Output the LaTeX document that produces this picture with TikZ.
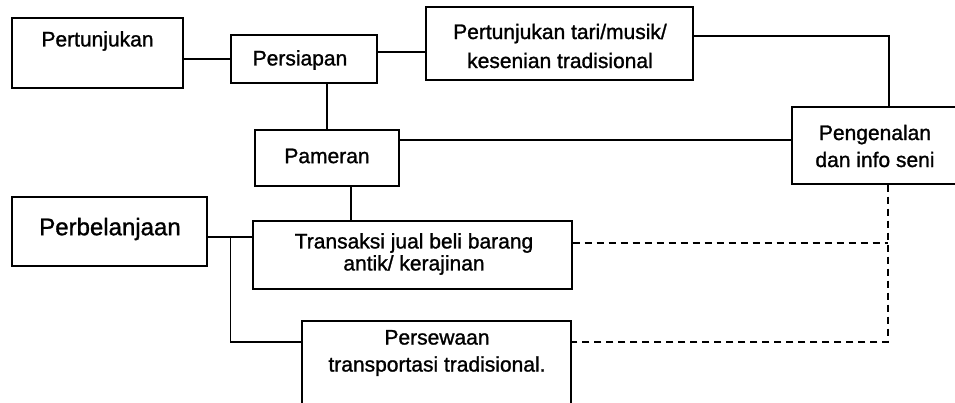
\documentclass[tikz,border=0pt]{standalone}
\usepackage{fontspec}
\setmainfont[FakeBold=1.2]{Liberation Sans}
\begin{document}
\begin{tikzpicture}[x=1pt,y=-1pt,
  box/.style={draw=black,line width=1.4pt,inner sep=0pt,fill=none},
  txt/.style={inner sep=0pt,align=center,font=\fontsize{21}{27}\selectfont},
  conn/.style={draw=black,line width=1.4pt},
  dconn/.style={draw=black,line width=1.4pt,dash pattern=on 7pt off 5pt}]
\useasboundingbox (0,0) rectangle (955,402);
\clip (0,0) rectangle (955,402);
\fill[white] (0,0) rectangle (955,402);
% boxes
\node[box,minimum width=171pt,minimum height=70pt] (pertunjukan) at (97.5,53) {};
\node[txt] (pertunjukanT) at (97.5,41) {Pertunjukan};
\node[box,minimum width=146pt,minimum height=48pt] (persiapan) at (304,59) {};
\node[txt] (persiapanT) at (300,60) {Persiapan};
\node[box,minimum width=267pt,minimum height=73pt] (tari) at (559.5,43.5) {};
\node[txt,font=\fontsize{21}{29}\selectfont] (tariT) at (560,46) {Pertunjukan tari/musik/\\kesenian tradisional};
\node[box,minimum width=166pt,minimum height=77pt] (pengenalan) at (875,145.5) {};
\node[txt] (pengenalanT) at (875,146) {Pengenalan\\dan info seni};
\node[box,minimum width=144pt,minimum height=56pt] (pameran) at (327,158) {};
\node[txt] (pameranT) at (327,156) {Pameran};
\node[box,minimum width=195pt,minimum height=69pt] (perbelanjaan) at (109.5,231.5) {};
\node[txt,font=\fontsize{24}{28}\selectfont] (perbelanjaanT) at (110,229) {Perbelanjaan};
\node[box,minimum width=319pt,minimum height=68pt] (transaksi) at (412.5,255) {};
\node[txt,font=\fontsize{21}{22}\selectfont] (transaksiT) at (414,254) {Transaksi jual beli barang\\antik/ kerajinan};
\node[box,minimum width=269pt,minimum height=100pt] (persewaan) at (436.5,371) {};
\node[txt] (persewaanT) at (437,353) {Persewaan\\transportasi tradisional.};
% connectors
\draw[conn] (persiapan.west) -- (persiapan.west -| pertunjukan.east);
\draw[conn] ([yshift=7pt]persiapan.east) -- ([yshift=7pt]persiapan.east -| tari.west);
\draw[conn] ([yshift=7.5pt]tari.east) -| ([xshift=14pt]pengenalan.north);
\draw[conn] (pameran.north) -- (pameran.north |- persiapan.south);
\draw[conn] ([yshift=18pt]pameran.east) -- ([yshift=18pt]pameran.east -| pengenalan.west);
\draw[conn] ([xshift=24pt]pameran.south) -- ([xshift=24pt]pameran.south |- transaksi.north);
\draw[conn] ([yshift=-5.5pt]perbelanjaan.east) -- ([yshift=-5.5pt]perbelanjaan.east -| transaksi.west);
\coordinate (br) at ([yshift=-5.5pt,xshift=23pt]perbelanjaan.east);
\draw[conn] (br) |- ([yshift=29pt]persewaan.west);
\coordinate (dc) at ([xshift=13pt]pengenalan.south);
\draw[dconn] (dc) |- ([yshift=29pt]persewaan.east);
\draw[dconn] ([yshift=12pt]transaksi.east) -- ([yshift=12pt]transaksi.east -| dc);
\end{tikzpicture}
\end{document}
